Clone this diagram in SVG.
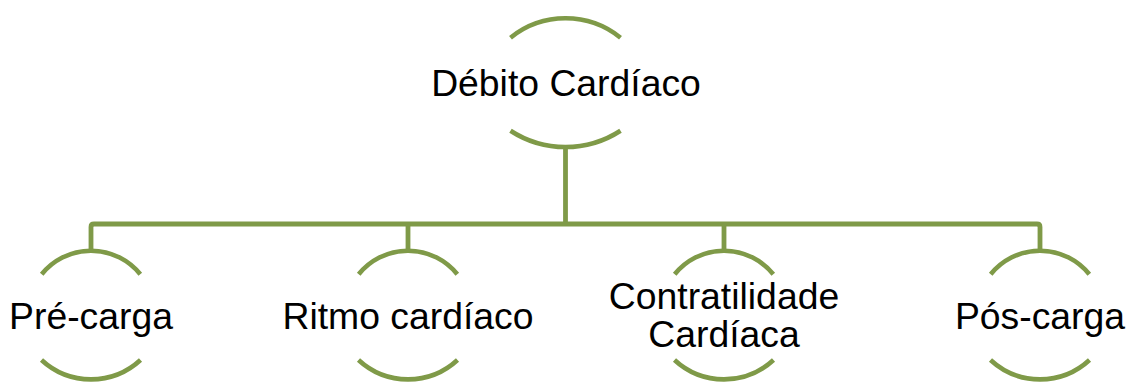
<svg xmlns="http://www.w3.org/2000/svg" width="1134" height="383" viewBox="0 0 1134 383">
  <style>
    .arc { fill: none; stroke: #7F9A48; stroke-width: 4.6; stroke-linecap: butt; }
    .link { fill: none; stroke: #7F9A48; stroke-width: 4.8; stroke-linejoin: round; }
    .label { font-family: "Liberation Sans", Arial, sans-serif; font-size: 37.33px; fill: #000; text-anchor: middle; }
  </style>
  <defs>
    <!-- upper and lower arc pair for the child nodes, centred on x = 0 -->
    <g id="child-arcs">
      <path class="arc" d="M-49.3 274.3 A63.3 63.3 0 0 1 49.3 274.3"/>
      <path class="arc" d="M-49.5 360 A73 73 0 0 0 49.5 360"/>
    </g>
  </defs>
  <rect width="1134" height="383" fill="#fff"/>

  <g id="connectors">
    <path class="link" d="M565.5 147 V224"/>
    <path class="link" d="M91 251 V227 Q91 224 94 224 H1037 Q1040 224 1040 227 V251"/>
    <path class="link" d="M408 224 V251"/>
    <path class="link" d="M724 224 V251"/>
  </g>

  <g id="debito-cardiaco">
    <path class="arc" d="M510.5 37.7 A87.7 87.7 0 0 1 620.5 37.7"/>
    <path class="arc" d="M510.5 130.7 A101 101 0 0 0 620.5 130.7"/>
    <text class="label" x="566" y="95.7">Débito Cardíaco</text>
  </g>

  <g id="pre-carga">
    <use href="#child-arcs" x="91"/>
    <text class="label" x="91" y="329">Pré-carga</text>
  </g>

  <g id="ritmo-cardiaco">
    <use href="#child-arcs" x="408"/>
    <text class="label" x="408" y="329">Ritmo cardíaco</text>
  </g>

  <g id="contratilidade-cardiaca">
    <use href="#child-arcs" x="724"/>
    <text class="label" x="724" y="309">Contratilidade</text>
    <text class="label" x="724" y="347.3">Cardíaca</text>
  </g>

  <g id="pos-carga">
    <use href="#child-arcs" x="1040"/>
    <text class="label" x="1040" y="329">Pós-carga</text>
  </g>
</svg>
